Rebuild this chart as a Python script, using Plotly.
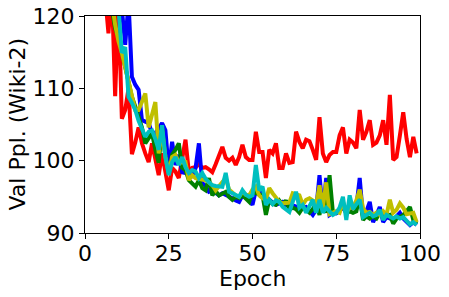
import plotly.graph_objects as go

epochs = list(range(100))

red = [200, 180, 160, 145, 135, 128, 123, 117.6, 124, 108.9,
       122, 105.8, 107, 110, 100.9, 102.5, 104.6, 102.4, 101, 99.8,
       102.4, 100, 98, 101, 98, 95.9, 99, 98.5, 97.6, 100,
       102.9, 98.4, 99, 99.1, 99.5, 99, 99.1, 98.8, 98.4, 99.5,
       100.8, 101.9, 100.4, 100, 100.4, 99.4, 100.5, 102.2, 100.5, 100.1,
       100.1, 104, 101.2, 101.2, 97.6, 101.5, 101, 102.4, 99, 99,
       101, 99.7, 99.8, 104, 102.6, 101.7, 102.9, 102.7, 101.5, 100.1,
       106, 101, 99.8, 100.8, 101.2, 101.2, 103.5, 104.6, 101, 102.9,
       102.5, 101.7, 107, 102.9, 104, 105.6, 102.2, 102.5, 103.5, 105.6,
       102.2, 109.1, 100.1, 100.5, 103.5, 106.7, 103, 100.5, 103.3, 101]

blue = [220, 200, 185, 170, 160, 150, 142, 136, 131, 127,
        124, 121, 116, 122, 111.6, 110.5, 109.8, 105.6, 105.4, 105.2,
        103.8, 103.8, 104.5, 105.2, 104.2, 98.7, 102.6, 99.4, 100.8, 98.4,
        98.3, 98.3, 97.7, 99, 102.4, 96.9, 96.5, 95.7, 95.9, 95.5,
        95.2, 95.5, 95.3, 95, 94.8, 94.5, 94.3, 95.2, 94.9, 94.6,
        93.9, 95.9, 95.5, 95.9, 93.2, 94.6, 94.2, 93.9, 94.1, 94.3,
        93.9, 94.0, 93.8, 93.6, 93.5, 93.5, 93.6, 93.0, 92.5, 93.2,
        98, 92.8, 97.6, 92.5, 92.8, 92.7, 93, 93.6, 92.8, 93.2,
        93.5, 93.6, 97.6, 92.2, 93, 94.3, 91.5, 92.5, 93.6, 91.5,
        92.2, 92, 91.8, 92.3, 92.8, 92, 91.5, 91.1, 91.5, 91.1]

green = [215, 195, 175, 160, 148, 138, 131, 126, 121, 118.3,
         117, 115, 113, 111, 108.8, 107.5, 106, 104.6, 102.4, 103,
         103.8, 101.5, 99.7, 104.6, 100.5, 98.3, 100.8, 101.5, 102.4, 99,
         98.7, 97.3, 96.8, 96.4, 97.3, 96.2, 95.9, 97.6, 95.2, 95.8,
         95.2, 95.5, 95.7, 95.0, 94.6, 95.0, 94.8, 95.2, 94.7, 94.3,
         95.7, 95.5, 95.4, 95.2, 92.5, 94.6, 94.0, 93.9, 94.5, 93.9,
         94.5, 93.2, 93.5, 93.3, 92.8, 93.5, 93.2, 92.8, 93.3, 94.1,
         92.5, 95.2, 92.8, 98, 92.8, 92.8, 93.2, 93.8, 92.7, 93.0,
         92.8, 93, 95.2, 91.8, 92.3, 92, 92.3, 92.0, 92.8, 92.2,
         92.4, 92.5, 91.3, 92.0, 92.2, 92.5, 93, 93.6, 91.8, 91.3]

yellow = [210, 190, 172, 158, 146, 137, 130, 125, 122, 118.8,
          116.5, 114.9, 113, 111, 108.7, 107, 107, 108, 109.3, 104.6,
          106.5, 108.1, 101, 104.2, 100.5, 98.3, 100.5, 100.8, 99.7, 99.8,
          99.8, 97.3, 98, 97.6, 97.5, 97.3, 97.3, 97, 96.6, 95.9,
          96.5, 97, 97.6, 96, 95.5, 95.2, 95, 95.7, 95.3, 95.2,
          96, 96.4, 95.2, 94.8, 94.6, 96.2, 95.5, 95, 94.3, 94.1,
          94.1, 94.2, 95.5, 95.3, 95.2, 93.9, 94.6, 94.8, 94.5, 93.9,
          96.6, 93.5, 97, 92.6, 92.8, 93, 92.8, 94.3, 92.8, 93.5,
          93.5, 94.5, 96, 93.4, 92.8, 92.9, 92.5, 92.8, 92.5, 93,
          92.5, 94.6, 92.8, 93.2, 94.1, 93.5, 92.6, 92.7, 92.8, 91.5]

cyan = [225, 205, 188, 172, 160, 150, 141, 134, 128, 124,
        121, 114.9, 115.7, 108.8, 108, 107, 105.5, 104.2, 103.3, 104,
        104.2, 103, 101.5, 104.9, 100.5, 98, 99.8, 100.5, 99.4, 100.5,
        99.1, 98.3, 98.7, 98.5, 97.6, 98.3, 97.5, 97, 96.6, 96.5,
        96.4, 96.4, 98.3, 95.7, 95.5, 95.2, 95, 95.9, 95.3, 95.0,
        95.2, 99.4, 95.9, 96.4, 93.9, 94.6, 94.0, 94.5, 94.3, 93.6,
        93.2, 92.9, 94.3, 95.7, 93.5, 93.9, 92.8, 93.8, 94.6, 92.8,
        94.6, 92.8, 93.5, 93.0, 92.5, 92.8, 93.5, 95, 91.8, 95.2,
        93.3, 94, 94.6, 92.2, 92.5, 92.8, 92.3, 92.5, 93.2, 91.8,
        92.5, 92.2, 92.0, 92.3, 92.0, 92.2, 91.6, 91.2, 91.5, 91.1]

series = [
    (red, "#ff0000"),
    (blue, "#0000ff"),
    (green, "#008000"),
    (yellow, "#bfbf00"),
    (cyan, "#00bfbf"),
]

x_ticks = [0, 25, 50, 75, 100]
y_ticks = [90, 100, 110, 120]
x_title = "Epoch"
y_title = "Val Ppl. (Wiki-2)"

fig = go.Figure()
for vals, col in series:
    fig.add_trace(go.Scatter(x=epochs, y=vals, mode="lines",
                             line=dict(color=col, width=4),
                             showlegend=False))

font = dict(family="DejaVu Sans", size=22, color="black")
fig.update_layout(
    width=449, height=297,
    margin=dict(l=85, r=29, t=16, b=64, autoexpand=False),
    paper_bgcolor="white", plot_bgcolor="white",
    font=font,
    xaxis=dict(range=[0, 100], tickvals=x_ticks, ticktext=[str(t) for t in x_ticks],
               showgrid=False, zeroline=False, showline=True, mirror=True,
               linecolor="black", linewidth=1, ticks="outside", ticklen=5,
               tickcolor="black", automargin=False, ticklabeloverflow="allow",
               ticklabelstandoff=-4),
    yaxis=dict(range=[90, 120], tickvals=y_ticks, ticktext=[str(t) for t in y_ticks],
               showgrid=False, zeroline=False, showline=True, mirror=True,
               linecolor="black", linewidth=1, ticks="outside", ticklen=5,
               tickcolor="black", automargin=False, ticklabeloverflow="allow"),
    annotations=[
        dict(text=x_title, xref="paper", yref="paper", x=0.5, y=0,
             xanchor="center", yanchor="middle", yshift=-45, showarrow=False,
             font=font),
        dict(text=y_title, xref="paper", yref="paper", x=0, y=0.5,
             xanchor="center", yanchor="middle", xshift=-68, textangle=-90,
             showarrow=False, font=font),
    ],
)
fig.write_html("out.html",
               config={"displayModeBar": False},
               post_script="document.body.style.margin='0';")
